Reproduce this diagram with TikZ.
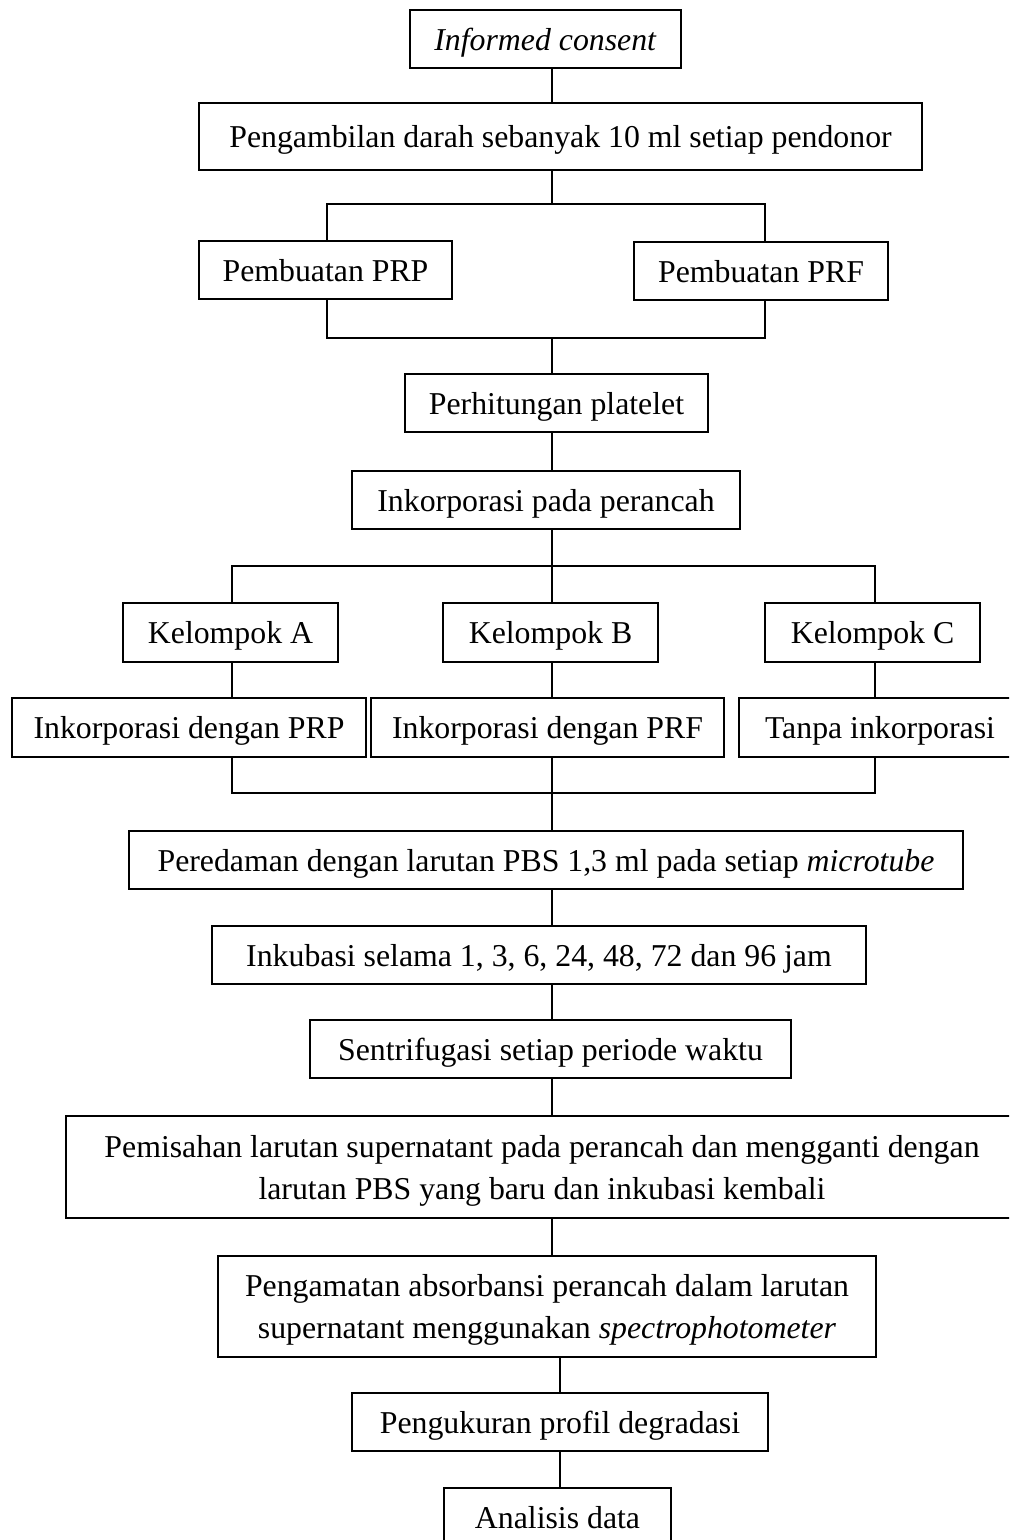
\documentclass[tikz,border=0pt]{standalone}
\usepackage{fontspec}
\setmainfont{Liberation Serif}
\usepackage{tikz}
\definecolor{ink}{HTML}{000000}

\begin{document}
\begin{tikzpicture}[
    x=0.5pt, y=-0.5pt,
    every node/.style={font=\fontsize{15.9}{21}\selectfont, text=ink},
    stepbox/.style={draw=ink, line width=0.8pt, rectangle, align=center,
                    inner sep=2pt, text depth=0pt, minimum height=29pt},
    link/.style={draw=ink, line width=0.8pt},
  ]
  \useasboundingbox (0,0) rectangle (1009,1540);
  \clip (0,0) rectangle (1009,1540);

  % columns and junctions of the connectors
  \coordinate (mid) at (552,0);
  \coordinate (l1) at (327,0);
  \coordinate (r1) at (765,0);
  \coordinate (lA) at (232,0);
  \coordinate (rC) at (875,0);
  \coordinate (j1) at (552,204);
  \coordinate (j2) at (552,338);
  \coordinate (j3) at (552,566);
  \coordinate (j4) at (552,793);

  % preparation
  \node[stepbox, minimum width=135.5pt] (consent) at (545.5,39) {\textit{Informed consent}};
  \node[stepbox, minimum width=361.5pt, minimum height=33.5pt] (ambil) at (560.5,136.5)
        {Pengambilan darah sebanyak 10 ml setiap pendonor};
  \node[stepbox, minimum width=126.5pt] (prp) at (325.5,270) {Pembuatan PRP};
  \node[stepbox, minimum width=127pt] (prf) at (761,271) {Pembuatan PRF};
  \node[stepbox, minimum width=151.5pt] (hitung) at (556.5,403) {Perhitungan platelet};
  \node[stepbox, minimum width=194pt] (inkor) at (546,500) {Inkorporasi pada perancah};

  % the three groups
  \node[stepbox, minimum width=107.5pt, minimum height=29.5pt] (kelA) at (230.5,632.5) {Kelompok A};
  \node[stepbox, minimum width=107.5pt, minimum height=29.5pt] (kelB) at (550.5,632.5) {Kelompok B};
  \node[stepbox, minimum width=107.5pt, minimum height=29.5pt] (kelC) at (872.5,632.5) {Kelompok C};
  \node[stepbox, minimum width=177pt, minimum height=29.5pt] (denprp) at (189,727.5) {Inkorporasi dengan PRP};
  \node[stepbox, minimum width=176.5pt, minimum height=29.5pt] (denprf) at (547.5,727.5) {Inkorporasi dengan PRF};
  \node[stepbox, minimum width=141pt, minimum height=29.5pt] (tanpa) at (880,727.5) {Tanpa inkorporasi};

  % degradation test
  \node[stepbox, minimum width=417pt] (redam) at (546,860)
        {Peredaman dengan larutan PBS 1,3 ml pada setiap \textit{microtube}};
  \node[stepbox, minimum width=327pt] (inkub) at (539,955)
        {Inkubasi selama 1, 3, 6, 24, 48, 72 dan 96 jam};
  \node[stepbox, minimum width=240.5pt] (sentri) at (550.5,1049) {Sentrifugasi setiap periode waktu};
  \node[stepbox, minimum width=476pt, minimum height=51pt] (pisah) at (542,1167)
        {Pemisahan larutan supernatant pada perancah dan mengganti dengan\\
         larutan PBS yang baru dan inkubasi kembali};
  \node[stepbox, minimum width=329pt, minimum height=50.5pt] (amat) at (547,1306.5)
        {Pengamatan absorbansi perancah dalam larutan\\
         supernatant menggunakan \textit{spectrophotometer}};
  \node[stepbox, minimum width=208pt] (ukur) at (560,1422) {Pengukuran profil degradasi};
  \node[stepbox, minimum width=113.5pt] (analisis) at (557.5,1517) {Analisis data};

  % connectors
  \draw[link] (consent.south -| mid) -- (ambil.north -| mid);
  \draw[link] (ambil.south -| mid) -- (j1);
  \draw[link] (prp.north -| l1) |- (j1) -| (prf.north -| r1);
  \draw[link] (prp.south -| l1) |- (j2) -| (prf.south -| r1);
  \draw[link] (j2) -- (hitung.north -| mid);
  \draw[link] (hitung.south -| mid) -- (inkor.north -| mid);
  \draw[link] (inkor.south -| mid) -- (j3);
  \draw[link] (kelA.north -| lA) |- (j3) -| (kelC.north -| rC);
  \draw[link] (j3) -- (kelB.north -| mid);
  \draw[link] (kelA.south -| lA) -- (denprp.north -| lA);
  \draw[link] (kelB.south -| mid) -- (denprf.north -| mid);
  \draw[link] (kelC.south -| rC) -- (tanpa.north -| rC);
  \draw[link] (denprp.south -| lA) |- (j4) -| (tanpa.south -| rC);
  \draw[link] (denprf.south -| mid) -- (j4) -- (redam.north -| mid);
  \foreach \a/\b in {redam/inkub, inkub/sentri, sentri/pisah, pisah/amat}
    \draw[link] (\a.south -| mid) -- (\b.north -| mid);
  \draw[link] (ukur.north) -- (ukur.north |- amat.south);
  \draw[link] (ukur.south) -- (ukur.south |- analisis.north);
\end{tikzpicture}
\end{document}
